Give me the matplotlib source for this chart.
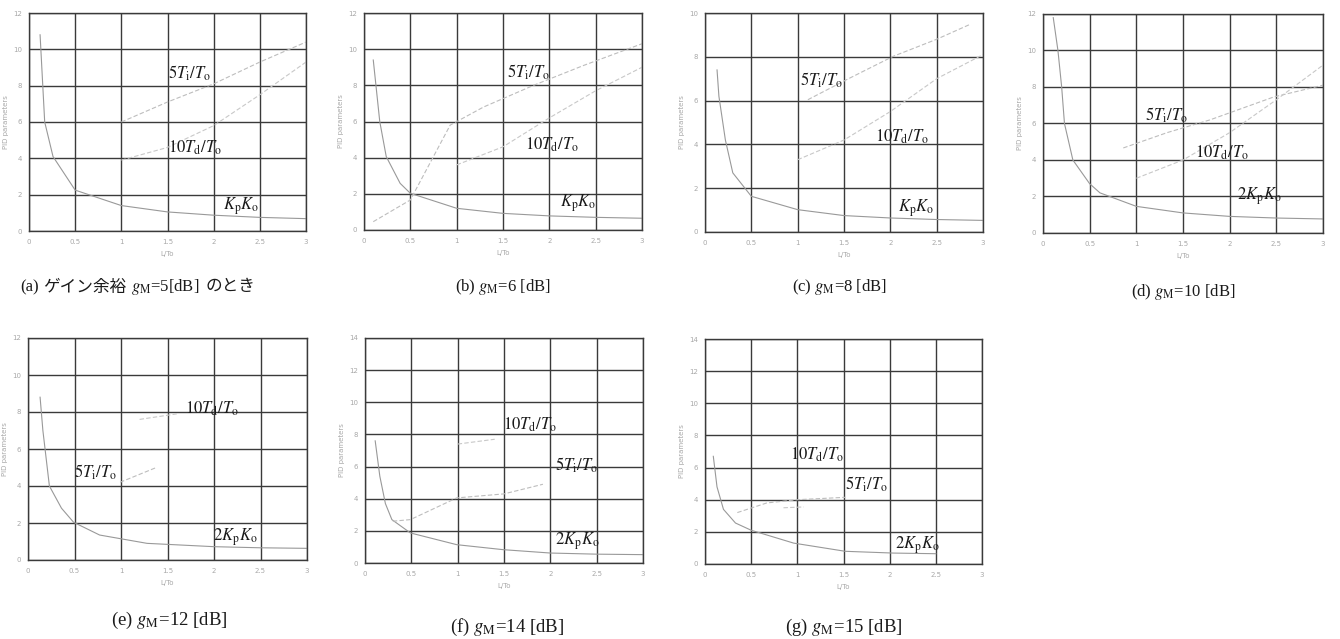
import matplotlib
matplotlib.use("Agg")
import matplotlib.pyplot as plt

plt.rcParams["mathtext.fontset"] = "stix"
plt.rcParams["font.family"] = ["Liberation Serif", "Noto Sans CJK JP"]

W, H = 1340, 639

# gain margins of the seven designs
gain_margin = [5, 6, 8, 10, 12, 14, 15]
panel_tags = ["(a)", "(b)", "(c)", "(d)", "(e)", "(f)", "(g)"]
y_limits = [12, 12, 10, 12, 12, 14, 14]
x_ticks = [0, 0.5, 1, 1.5, 2, 2.5, 3]
x_tick_labels = ["0", "0.5", "1", "1.5", "2", "2.5", "3"]

# proportional gain curve (K_p K_o, or 2 K_p K_o) against L/T_o
k_x = [
    [0.12, 0.17, 0.26, 0.5, 1.0, 1.5, 2.0, 2.5, 3.0],
    [0.10, 0.17, 0.24, 0.39, 0.5, 1.0, 1.5, 2.0, 2.5, 3.0],
    [0.13, 0.15, 0.22, 0.3, 0.5, 1.0, 1.5, 2.0, 2.5, 3.0],
    [0.11, 0.16, 0.2, 0.23, 0.32, 0.5, 0.61, 1.0, 1.5, 2.0, 2.5, 3.0],
    [0.13, 0.16, 0.23, 0.36, 0.49, 0.77, 1.28, 2.0, 2.5, 3.0],
    [0.11, 0.16, 0.22, 0.29, 0.49, 0.99, 1.49, 2.0, 2.5, 3.0],
    [0.09, 0.13, 0.2, 0.33, 0.5, 0.96, 1.52, 2.04, 2.5],
]
k_y = [
    [10.8, 6.0, 4.1, 2.25, 1.4, 1.05, 0.87, 0.75, 0.68],
    [9.4, 6.0, 4.06, 2.58, 2.03, 1.2, 0.92, 0.78, 0.7, 0.65],
    [7.4, 6.2, 4.2, 2.7, 1.63, 1.02, 0.75, 0.64, 0.57, 0.53],
    [11.8, 10.0, 8.0, 6.0, 4.0, 2.7, 2.2, 1.46, 1.1, 0.91, 0.82, 0.77],
    [8.8, 7.0, 4.0, 2.8, 2.04, 1.35, 0.9, 0.72, 0.66, 0.63],
    [7.6, 5.4, 3.7, 2.7, 1.87, 1.14, 0.83, 0.62, 0.55, 0.52],
    [6.7, 4.8, 3.4, 2.55, 2.1, 1.3, 0.79, 0.68, 0.64],
]

# integral time curve 5 T_i / T_o
ti_x = [
    [1.0, 1.5, 2.0, 2.5, 3.0],
    [0.1, 0.5, 0.93, 1.29, 1.83, 2.37, 3.0],
    [1.11, 1.53, 2.03, 2.5, 2.87],
    [0.86, 1.33, 1.79, 2.47, 3.0],
    [0.99, 1.38],
    [0.3, 0.49, 0.99, 1.5, 1.92],
    [0.35, 0.67, 1.0, 1.52],
]
ti_y = [
    [6.0, 7.1, 8.1, 9.3, 10.4],
    [0.46, 1.66, 5.8, 6.8, 8.0, 9.1, 10.3],
    [6.04, 6.96, 8.02, 8.8, 9.5],
    [4.66, 5.5, 6.2, 7.45, 8.1],
    [4.2, 5.0],
    [2.6, 2.7, 4.05, 4.3, 4.9],
    [3.2, 3.8, 4.0, 4.15],
]

# derivative time curve 10 T_d / T_o
td_x = [
    [1.0, 1.5, 2.0, 2.5, 3.0],
    [1.0, 1.5, 2.0, 2.5, 3.0],
    [1.0, 1.5, 2.0, 2.5, 3.0],
    [1.0, 1.5, 2.0, 2.5, 3.0],
    [1.2, 1.6],
    [1.0, 1.4],
    [0.85, 1.07],
]
td_y = [
    [3.9, 4.6, 5.8, 7.5, 9.3],
    [3.6, 4.6, 6.2, 7.7, 9.0],
    [3.3, 4.2, 5.5, 7.0, 8.1],
    [3.0, 4.0, 5.5, 7.3, 9.2],
    [7.6, 7.9],
    [7.4, 7.7],
    [3.5, 3.55],
]

# curve labels: (x, y) anchors in data units
k_names = ["$K_{\\rm p}K_{\\rm o}$"] * 3 + ["$2K_{\\rm p}K_{\\rm o}$"] * 4
k_pos = [(2.1, 1.37), (2.11, 1.49), (2.08, 1.1), (2.08, 2.03), (1.99, 1.24), (2.05, 1.37), (2.06, 1.18)]
ti_pos = [(1.5, 8.7), (1.54, 8.73), (1.02, 6.94), (1.09, 6.47), (0.5, 4.76), (2.05, 6.1), (1.52, 4.98)]
td_pos = [(1.5, 4.6), (1.74, 4.7), (1.83, 4.34), (1.63, 4.38), (1.69, 8.2), (1.49, 8.59), (0.92, 6.78)]

# axes boxes in pixels: left, top, right, bottom
boxes = [
    (29, 13, 306, 231), (364, 13, 642, 230), (705, 13, 983, 232), (1043, 14, 1323, 233),
    (28, 338, 307, 560), (365, 338, 643, 563), (705, 339, 982, 564),
]
# caption anchors in pixels (x, y, alignment, size)
caption_pos = [(20, 287, "left", 12), (503, 287, "center", 12), (840, 287, "center", 12),
               (1183, 292, "center", 12), (169, 620, "center", 13.5), (507, 627, "center", 13.5),
               (844, 627, "center", 13.5)]

fig = plt.figure(figsize=(W / 100, H / 100), dpi=100)
fig.patch.set_facecolor("white")
renderer = fig.canvas.get_renderer()

grid_c = "#3a3a3a"
tick_c = "#a8a8a8"
text_c = "#1a1a1a"


def caption_run(x_px, y_px, pieces, size):
    """Write text pieces one after another along a baseline."""
    x = x_px
    for s, fam, gap in pieces:
        t = fig.text(x / W, 1 - y_px / H, s, fontsize=size, ha="left", va="center",
                     color=text_c, family=fam)
        x += t.get_window_extent(renderer).width + gap


for i in range(7):
    l, t, r, b = boxes[i]
    ax = fig.add_axes([l / W, 1 - b / H, (r - l) / W, (b - t) / H])
    ymax = y_limits[i]
    ax.set_xlim(0, 3)
    ax.set_ylim(0, ymax)
    ax.set_xticks(x_ticks)
    ax.set_xticklabels(x_tick_labels)
    ax.set_yticks(list(range(0, ymax + 1, 2)))
    ax.grid(True, color=grid_c, linewidth=1.0)
    for s in ax.spines.values():
        s.set_color(grid_c)
        s.set_linewidth(1.0)
    ax.tick_params(length=0, labelsize=5, labelcolor=tick_c, pad=6)
    ax.tick_params(axis="y", pad=5)
    for lab in ax.get_xticklabels() + ax.get_yticklabels():
        lab.set_family("DejaVu Sans")
    ax.set_xlabel("L/To", fontsize=5, color=tick_c, labelpad=4, family="DejaVu Sans")
    ax.set_ylabel("PID parameters", fontsize=5, color=tick_c, labelpad=3, family="DejaVu Sans")

    ax.plot(k_x[i], k_y[i], color="#999999", linewidth=0.8)
    ax.plot(ti_x[i], ti_y[i], color="#bdbdbd", linewidth=0.8, linestyle=(0, (4, 2)))
    ax.plot(td_x[i], td_y[i], color="#c8c8c8", linewidth=0.8, linestyle=(0, (4, 2)))

    ax.text(*k_pos[i], k_names[i], fontsize=12, color=text_c, va="center", ha="left")
    ax.text(*ti_pos[i], "$5T_{\\rm i}/T_{\\rm o}$", fontsize=12, color=text_c, va="center", ha="left")
    ax.text(*td_pos[i], "$10T_{\\rm d}/T_{\\rm o}$", fontsize=12, color=text_c, va="center", ha="left")

    cx, cy, ha, fs = caption_pos[i]
    if i == 0:
        caption_run(cx, cy, [
            (panel_tags[i], "Liberation Serif", 4),
            ("ゲイン余裕", "Noto Sans CJK JP", 5),
            ("$g_{\\rm M}$=%d[dB]" % gain_margin[i], "Liberation Serif", 6),
            ("のとき", "Noto Sans CJK JP", 0),
        ], fs)
    else:
        cap = "%s $g_{\\rm M}$=%d [dB]" % (panel_tags[i], gain_margin[i])
        fig.text(cx / W, 1 - cy / H, cap, fontsize=fs, ha=ha, va="center", color=text_c,
                 family="Liberation Serif")

fig.savefig("out.png", dpi=100, facecolor="white")
